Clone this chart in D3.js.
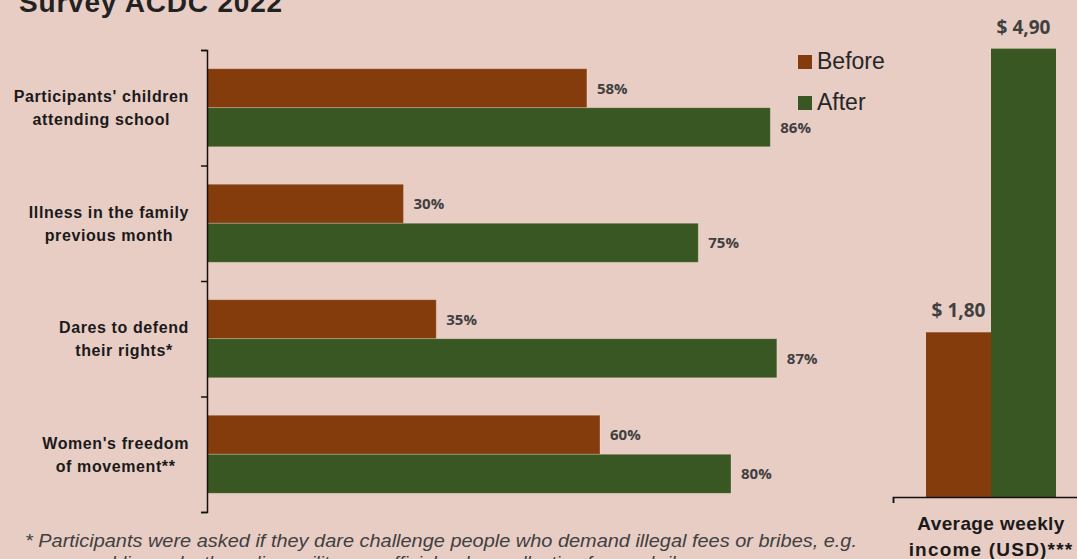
<!DOCTYPE html>
<html>
<head>
<meta charset="utf-8">
<script src="https://cdn.jsdelivr.net/npm/d3@7/dist/d3.min.js"></script>
<style>
  html, body { margin: 0; padding: 0; background: #e8cdc5; }
  svg { display: block; }
</style>
</head>
<body>
<svg id="chart" width="1077" height="559"></svg>
<script>
// Survey indicators, share of participants (%)
const categories = [
  "Participants' children|attending school",
  "Illness in the family|previous month",
  "Dares to defend|their rights*",
  "Women's freedom|of movement**"
];
const series = ["Before", "After"];
const beforeValues = [58, 30, 35, 60];
const afterValues = [86, 75, 87, 80];

// Average weekly income (USD)
const incomeCategory = "Average weekly|income (USD)***";
const incomeBefore = 1.80;
const incomeAfter = 4.90;

const titleText = "Survey ACDC 2022";
const footnoteLines = [
  "* Participants were asked if they dare challenge people who demand illegal fees or bribes, e.g.",
  "on public roads, the police, military or officials when collecting fees or bribes"
];

const colors = { Before: "#843c0c", After: "#385723" };
const svg = d3.select("#chart");

const pctFmt = v => v + "%";
const usdFmt = v => "$ " + v.toFixed(2).replace(".", ",");

// ---------- Title ----------
svg.append("text")
  .attr("x", 19).attr("y", 12)
  .attr("font-family", "Liberation Sans, Arial, sans-serif")
  .attr("font-weight", "bold").attr("font-size", 28)
  .attr("letter-spacing", 0.8)
  .attr("fill", "#222")
  .text(titleText);

// ---------- Left: grouped horizontal bars ----------
const x = d3.scaleLinear().domain([0, 100]).range([207, 862]);
const y = d3.scaleBand().domain(categories).range([50, 512]).padding(0);
const ySub = d3.scaleBand().domain(series).range([0, y.bandwidth()])
  .paddingInner(0).paddingOuter(0.48);

const rows = categories.map((c, i) => ({ c, Before: beforeValues[i], After: afterValues[i] }));

const groups = svg.append("g").selectAll("g")
  .data(rows).join("g")
  .attr("transform", d => `translate(0,${y(d.c)})`);

groups.selectAll("rect")
  .data(d => series.map(s => ({ s, v: d[s] })))
  .join("rect")
  .attr("x", x(0))
  .attr("y", d => ySub(d.s))
  .attr("width", d => x(d.v) - x(0))
  .attr("height", ySub.bandwidth())
  .attr("fill", d => colors[d.s])
  .attr("stroke", "rgba(255,230,210,0.35)")
  .attr("stroke-width", 0.8);

groups.selectAll("text.val")
  .data(d => series.map(s => ({ s, v: d[s] })))
  .join("text")
  .attr("class", "val")
  .attr("x", d => x(d.v) + 10)
  .attr("y", d => ySub(d.s) + ySub.bandwidth() / 2)
  .attr("dy", "0.36em")
  .attr("font-family", "Open Sans, sans-serif")
  .attr("font-weight", "bold").attr("font-size", 15)
  .attr("fill", "#404040")
  .text(d => pctFmt(d.v));

// Axis with tick marks at the category boundaries
const yEdges = d3.scaleLinear().domain([0, categories.length]).range([50, 512]);
svg.append("g")
  .attr("transform", `translate(${x(0)},0)`)
  .call(d3.axisLeft(yEdges).tickValues(d3.range(categories.length + 1))
    .tickSize(6).tickSizeOuter(6).tickFormat(""))
  .call(g => g.selectAll("path, line").attr("stroke", "#111").attr("stroke-width", 1.5));

// Category labels: centred lines, block right-aligned against the axis
categories.forEach(c => {
  const lines = c.split("|");
  const g = svg.append("g");
  const texts = lines.map((ln, k) => g.append("text")
    .attr("y", y(c) + y.bandwidth() / 2 - 5.5 + k * 23)
    .attr("font-family", "Liberation Sans, Arial, sans-serif")
    .attr("font-weight", "bold").attr("font-size", 16)
    .attr("letter-spacing", 0.6)
    .attr("fill", "#1a1a1a")
    .attr("text-anchor", "middle")
    .text(ln));
  const maxW = d3.max(texts, t => t.node().getComputedTextLength());
  texts.forEach(t => t.attr("x", 189 - maxW / 2));
});

// Legend
const legend = svg.append("g");
series.forEach((s, i) => {
  legend.append("rect")
    .attr("x", 798).attr("y", 55 + i * 41)
    .attr("width", 14).attr("height", 14)
    .attr("fill", colors[s]);
  legend.append("text")
    .attr("x", 817).attr("y", 69 + i * 41)
    .attr("font-family", "Liberation Sans, Arial, sans-serif")
    .attr("font-size", 23)
    .attr("fill", "#262626")
    .text(s);
});

// ---------- Right: income bars ----------
const xR = d3.scaleBand().domain([incomeCategory]).range([893, 1089]);
const xRSub = d3.scaleBand().domain(series).range([0, xR.bandwidth()])
  .paddingInner(0).paddingOuter(0.508);
const yR = d3.scaleLinear().domain([0, 5]).range([497, 39.5]);
const income = [{ s: "Before", v: incomeBefore }, { s: "After", v: incomeAfter }];

const rg = svg.append("g").attr("transform", `translate(${xR(incomeCategory)},0)`);
rg.selectAll("rect")
  .data(income).join("rect")
  .attr("x", d => xRSub(d.s))
  .attr("y", d => yR(d.v))
  .attr("width", xRSub.bandwidth())
  .attr("height", d => yR(0) - yR(d.v))
  .attr("fill", d => colors[d.s]);

rg.selectAll("text")
  .data(income).join("text")
  .attr("x", d => xRSub(d.s) + xRSub.bandwidth() / 2)
  .attr("y", d => yR(d.v) - 15)
  .attr("text-anchor", "middle")
  .attr("font-family", "Open Sans, sans-serif")
  .attr("font-weight", "bold").attr("font-size", 19)
  .attr("fill", "#404040")
  .text(d => usdFmt(d.v));

const xREdges = d3.scaleLinear().domain([0, 1]).range(xR.range());
svg.append("g")
  .attr("transform", `translate(0,${yR(0)})`)
  .call(d3.axisBottom(xREdges).tickValues([0, 1]).tickSize(6).tickSizeOuter(6).tickFormat(""))
  .call(g => g.selectAll("path, line").attr("stroke", "#111").attr("stroke-width", 1.5));

incomeCategory.split("|").forEach((ln, k) => {
  svg.append("text")
    .attr("x", xR(incomeCategory) + xR.bandwidth() / 2)
    .attr("y", 530 + k * 26)
    .attr("text-anchor", "middle")
    .attr("font-family", "Liberation Sans, Arial, sans-serif")
    .attr("font-weight", "bold").attr("font-size", 19)
    .attr("letter-spacing", k === 0 ? 0.4 : 1.2)
    .attr("fill", "#1a1a1a")
    .text(ln);
});

// ---------- Footnote ----------
footnoteLines.forEach((ln, k) => {
  const t = svg.append("text")
    .attr("x", k === 0 ? 25 : 64).attr("y", 547 + k * 22)
    .attr("font-family", "Liberation Sans, Arial, sans-serif")
    .attr("font-style", "italic").attr("font-size", 19)
    .attr("fill", "#404040")
    .text(ln);
  if (k === 0) t.attr("textLength", 832).attr("lengthAdjust", "spacingAndGlyphs");
});
</script>
</body>
</html>
